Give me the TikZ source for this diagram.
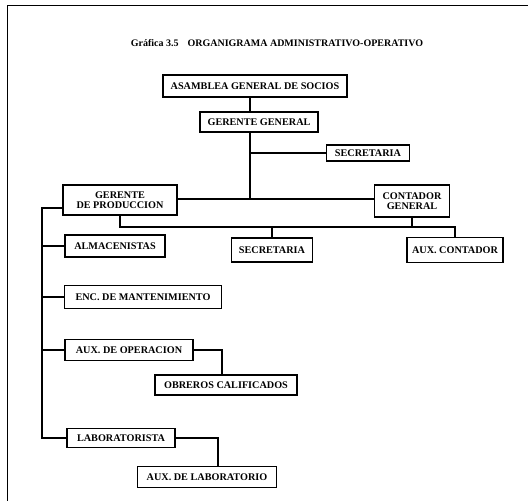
\documentclass[tikz,border=0pt]{standalone}
\usepackage{fontspec}
\setmainfont{Liberation Serif}
\begin{document}
\begin{tikzpicture}[x=1pt,y=-1pt,
  box/.style={draw,line width=1.4pt,inner sep=0pt,align=center,font=\fontsize{10.2}{10.5}\selectfont\bfseries},
  conn/.style={line width=1.1pt}]
\useasboundingbox (0,0) rectangle (528,501);
\draw[line width=0.9pt] (7,501) -- (7,5) -- (528,5);
\node[font=\fontsize{10}{11}\selectfont\bfseries] (title) at (277,43) {Gráfica 3.5\hspace{0.9em}ORGANIGRAMA ADMINISTRATIVO-OPERATIVO};
\node[box,minimum width=184,minimum height=22] (asamblea) at (255,86) {ASAMBLEA GENERAL DE SOCIOS};
\node[box,minimum width=118,minimum height=20] (gg) at (259,122) {GERENTE GENERAL};
\node[box,minimum width=83,minimum height=16] (sec1) at (368,153) {SECRETARIA};
\node[box,minimum width=114,minimum height=30] (gp) at (120,200) {GERENTE\\DE PRODUCCION};
\node[box,minimum width=75,minimum height=32] (cg) at (412,201) {CONTADOR\\GENERAL};
\node[box,minimum width=81,minimum height=24] (sec2) at (272,250) {SECRETARIA};
\node[box,minimum width=100,minimum height=22] (alm) at (115,246) {ALMACENISTAS};
\node[box,minimum width=96,minimum height=25] (auxc) at (455,250) {AUX. CONTADOR};
\node[box,minimum width=157,minimum height=23] (enc) at (143,297) {ENC. DE MANTENIMIENTO};
\node[box,minimum width=128,minimum height=21] (auxop) at (129,350) {AUX. DE OPERACION};
\node[box,minimum width=142,minimum height=20] (obr) at (226,385) {OBREROS CALIFICADOS};
\node[box,minimum width=108,minimum height=19] (lab) at (121,438) {LABORATORISTA};
\node[box,minimum width=139,minimum height=21] (auxlab) at (207,477) {AUX. DE LABORATORIO};
\coordinate (trunk) at (250,0);
\coordinate (bus) at (0,227);
\coordinate (mid) at (0,199);
\coordinate (spine) at (42,208);
\draw[conn] (trunk |- asamblea.south) -- (trunk |- gg.north);
\draw[conn] (trunk |- gg.south) -- (trunk |- mid);
\draw[conn] (trunk |- sec1.west) -- (sec1.west);
\draw[conn] (gp.east |- mid) -- (cg.west |- mid);
\draw[conn] (gp.south) -- (gp.south |- bus) -- (auxc.north |- bus) -- (auxc.north);
\draw[conn] (cg.south) -- (cg.south |- bus);
\draw[conn] (sec2.north |- bus) -- (sec2.north);
\draw[conn] ([yshift=-8pt]gp.west) -- (spine) -- (spine |- lab.west) -- (lab.west);
\draw[conn] (spine |- alm.west) -- (alm.west);
\draw[conn] (spine |- enc.west) -- (enc.west);
\draw[conn] (spine |- auxop.west) -- (auxop.west);
\draw[conn] (auxop.east) -| ([xshift=-4pt]obr.north);
\draw[conn] (lab.east) -| ([xshift=11pt]auxlab.north);
\end{tikzpicture}
\end{document}
